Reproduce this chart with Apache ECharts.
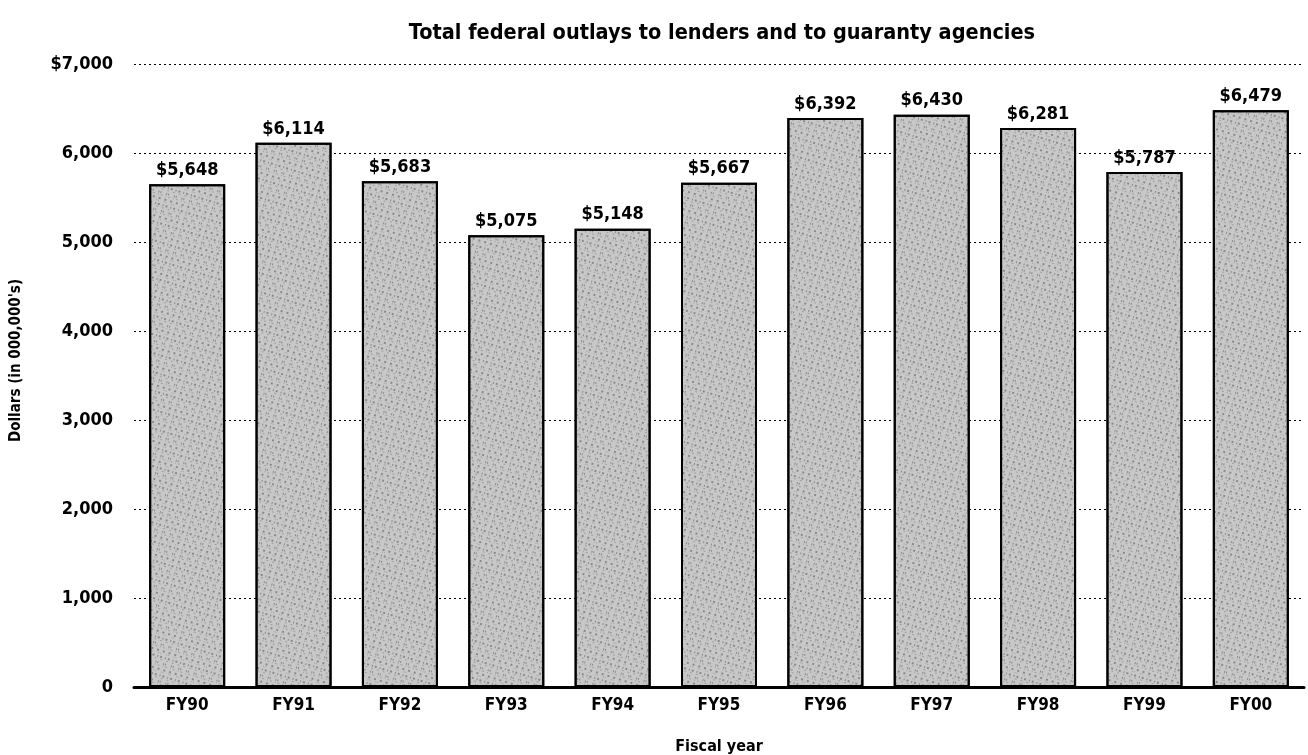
<!DOCTYPE html>
<html><head><meta charset="utf-8">
<script src="https://cdn.jsdelivr.net/npm/echarts@6/dist/echarts.min.js"></script>
<style>html,body{margin:0;padding:0;background:#fff}#c{width:1308px;height:755px}</style>
</head><body><div id="c"></div>
<script>
const categories = ['FY90','FY91','FY92','FY93','FY94','FY95','FY96','FY97','FY98','FY99','FY00'];
const outlays = [5648, 6114, 5683, 5075, 5148, 5667, 6392, 6430, 6281, 5787, 6479];
const yTickLabels = ['0','1,000','2,000','3,000','4,000','5,000','6,000','$7,000'];
const FONT = '"Liberation Sans Narrow","DejaVu Sans Condensed",sans-serif';

const chart = echarts.init(document.getElementById('c'));
chart.setOption({
  animation: false,
  backgroundColor: '#fff',
  title: {
    text: 'Total federal outlays to lenders and to guaranty agencies',
    left: 717, top: 17, textAlign: 'center',
    textStyle: {fontFamily: FONT, fontWeight: 'bold', fontSize: 21.5, color: '#000'}
  },
  grid: {left: 134, right: 4, top: 64, bottom: 68, outerBoundsMode: 'none', containLabel: false},
  xAxis: {
    type: 'category', data: categories,
    name: 'Fiscal year', nameLocation: 'middle', nameGap: 52,
    nameTextStyle: {fontFamily: FONT, fontWeight: 'bold', fontSize: 16, color: '#000'},
    axisLine: {lineStyle: {color: '#000', width: 3}},
    axisTick: {show: false},
    axisLabel: {fontFamily: FONT, fontWeight: 'bold', fontSize: 17, color: '#000', margin: 10}
  },
  yAxis: {
    type: 'value', min: 0, max: 7000, interval: 1000,
    name: "Dollars (in 000,000's)", nameLocation: 'middle', nameGap: 110,
    nameTextStyle: {fontFamily: FONT, fontWeight: 'bold', fontSize: 15, color: '#000', padding: [0, 0, 0, 30]},
    axisLine: {show: false}, axisTick: {show: false},
    axisLabel: {
      fontFamily: FONT, fontWeight: 'bold', fontSize: 18, color: '#000', margin: 21,
      formatter: (v) => yTickLabels[Math.round(v / 1000)]
    },
    splitLine: {lineStyle: {color: '#000', type: [2, 3], width: 1}}
  },
  series: [{
    type: 'bar', data: outlays, barWidth: 76,
    itemStyle: {
      color: '#c8c8c8', borderColor: '#000', borderWidth: 2,
      decal: {symbol: 'rect', symbolSize: 0.7, color: 'rgba(0,0,0,0.6)',
              dashArrayX: [[1, 2, 2, 3], [2, 4], [1, 1, 1, 5]], dashArrayY: [1, 2, 2, 1], rotation: 0.3}
    },
    label: {
      show: true, position: 'top', distance: 5,
      fontFamily: FONT, fontWeight: 'bold', fontSize: 18, color: '#000',
      formatter: (p) => '$' + p.value.toLocaleString('en-US')
    }
  }]
});
</script></body></html>
